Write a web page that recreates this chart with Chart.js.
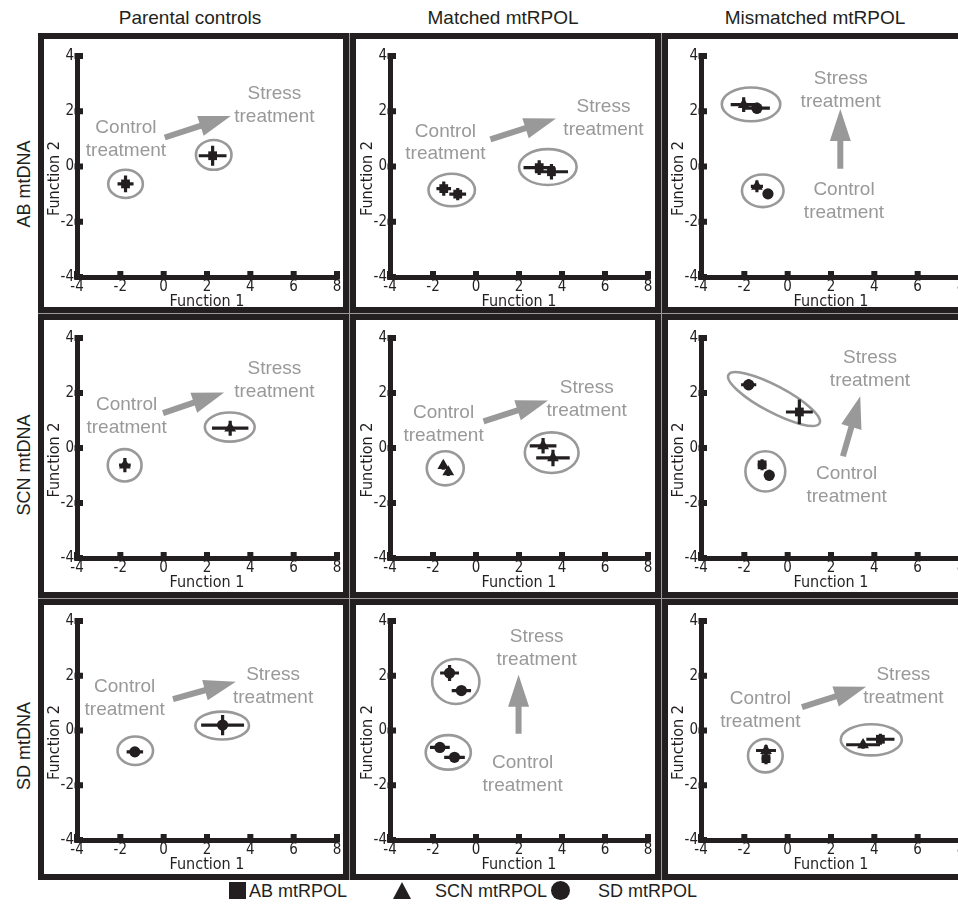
<!DOCTYPE html>
<html><head><meta charset="utf-8">
<script src="https://cdn.jsdelivr.net/npm/chart.js@4.4.1/dist/chart.umd.min.js"></script>
<style>
html,body{margin:0;padding:0;background:#fff;}
body{width:958px;height:907px;overflow:hidden;position:relative;font-family:"Liberation Sans",Arial,sans-serif;color:#231f20;}
.bg{position:absolute;left:38px;top:33px;width:940px;height:847px;background:#9a9a9a;}
.cell{position:absolute;box-sizing:border-box;border:6px solid #231f20;background:#fff;}
canvas{position:absolute;}
.hdr{position:absolute;font-size:19px;white-space:nowrap;transform:translate(-50%,-50%);line-height:22px;}
.rowl{position:absolute;font-size:18px;white-space:nowrap;transform:translate(-50%,-50%) rotate(-90deg);line-height:20px;}
.leg{position:absolute;font-size:18px;white-space:nowrap;line-height:18px;}
.sw{position:absolute;background:#231f20;}
</style></head><body>
<div class="bg"></div>
<script>
// ---------- labels ----------
const colTitles = ['Parental controls', 'Matched mtRPOL', 'Mismatched mtRPOL'];
const rowTitles = ['AB mtDNA', 'SCN mtDNA', 'SD mtDNA'];
const legendLabels = ['AB mtRPOL', 'SCN mtRPOL', 'SD mtRPOL'];
const xTicks = [-4, -2, 0, 2, 4, 6, 8];
const yTicks = [-4, -2, 0, 2, 4];
const xTitle = 'Function 1';
const yTitle = 'Function 2';
const groupText = [['Control', 'treatment'], ['Stress', 'treatment']];

// ---------- data: points [mtRPOL index, Function 1, Function 2, err F1, err F2] ----------
const AB_parental_pts    = [[0,-1.76,-0.63,0.37,0.30],[0,2.26,0.39,0.64,0.36]];
const AB_matched_pts     = [[0,-1.50,-0.80,0.34,0.26],[0,-0.85,-1.00,0.39,0.22],[0,2.94,-0.04,0.73,0.27],[0,3.51,-0.19,0.77,0.28]];
const AB_mismatched_pts  = [[1,-2.03,2.24,0.60,0.27],[2,-1.42,2.11,0.60,0.20],[1,-1.42,-0.72,0.28,0.21],[2,-0.91,-0.99,0.15,0.15]];
const SCN_parental_pts   = [[1,-1.79,-0.62,0.27,0.26],[1,3.07,0.72,0.84,0.27]];
const SCN_matched_pts    = [[1,-1.52,-0.64,0.12,0.15],[1,-1.29,-0.87,0.12,0.15],[1,3.12,0.08,0.62,0.28],[1,3.58,-0.36,0.78,0.30]];
const SCN_mismatched_pts = [[2,-1.80,2.30,0.35,0.20],[0,0.54,1.31,0.62,0.45],[0,-1.18,-0.61,0.20,0.20],[2,-0.85,-0.99,0.20,0.20]];
const SD_parental_pts    = [[2,-1.33,-0.78,0.38,0.15],[2,2.72,0.20,0.99,0.37]];
const SD_matched_pts     = [[2,-1.23,2.10,0.44,0.29],[2,-0.68,1.46,0.45,0.15],[2,-1.68,-0.62,0.46,0.15],[2,-1.00,-0.98,0.48,0.15]];
const SD_mismatched_pts  = [[1,-1.00,-0.73,0.46,0.20],[0,-1.00,-1.03,0.20,0.20],[1,3.48,-0.52,0.78,0.15],[0,4.28,-0.32,0.65,0.20]];

// ---------- group ellipses [centre F1, centre F2, radius F1, radius F2, tilt deg] ----------
const AB_parental_ell    = [[-1.76,-0.63,0.80,0.51,0],[2.31,0.42,0.82,0.54,0]];
const AB_matched_ell     = [[-1.13,-0.85,1.08,0.59,0],[3.34,-0.02,1.34,0.65,0]];
const AB_mismatched_ell  = [[-1.69,2.25,1.35,0.61,0],[-1.15,-0.88,0.96,0.59,0]];
const SCN_parental_ell   = [[-1.80,-0.63,0.78,0.59,0],[3.05,0.76,1.15,0.53,0]];
const SCN_matched_ell    = [[-1.43,-0.74,0.86,0.62,0],[3.52,-0.17,1.25,0.74,0]];
const SCN_mismatched_ell = [[-0.63,1.78,2.38,0.48,28],[-1.03,-0.85,0.92,0.73,0]];
const SD_parental_ell    = [[-1.31,-0.74,0.82,0.52,0],[2.70,0.18,1.24,0.51,0]];
const SD_matched_ell     = [[-0.94,1.79,1.10,0.82,0],[-1.29,-0.80,1.05,0.63,0]];
const SD_mismatched_ell  = [[-1.03,-0.92,0.80,0.61,0],[3.86,-0.34,1.41,0.57,0]];

// ---------- treatment label anchors [control F1, control F2, stress F1, stress F2] ----------
const AB_parental_txt    = [-1.74,0.99,5.11,2.22];
const AB_matched_txt     = [-1.42,0.86,5.93,1.75];
const AB_mismatched_txt  = [2.60,-1.25,2.45,2.77];
const SCN_parental_txt   = [-1.71,1.15,5.11,2.47];
const SCN_matched_txt    = [-1.51,0.86,5.15,1.76];
const SCN_mismatched_txt = [2.72,-1.36,3.80,2.85];
const SD_parental_txt    = [-1.80,1.18,5.05,1.62];
const SD_matched_txt     = [2.17,-1.59,2.82,3.01];
const SD_mismatched_txt  = [-1.26,0.75,5.34,1.62];

// ---------- arrows [from F1, from F2, to F1, to F2] ----------
const AB_parental_arw    = [0.05,1.05,3.10,1.83];
const AB_matched_arw     = [0.67,0.98,3.72,1.74];
const AB_mismatched_arw  = [2.43,-0.08,2.43,2.08];
const SCN_parental_arw   = [-0.03,1.27,2.79,2.02];
const SCN_matched_arw    = [0.35,0.97,3.35,1.73];
const SCN_mismatched_arw = [2.55,-0.30,3.35,1.88];
const SD_parental_arw    = [0.43,1.15,3.33,1.78];
const SD_matched_arw     = [1.98,-0.12,1.98,2.04];
const SD_mismatched_arw  = [0.66,0.85,3.62,1.60];

const panelPts = [AB_parental_pts, AB_matched_pts, AB_mismatched_pts, SCN_parental_pts, SCN_matched_pts, SCN_mismatched_pts, SD_parental_pts, SD_matched_pts, SD_mismatched_pts];
const panelEll = [AB_parental_ell, AB_matched_ell, AB_mismatched_ell, SCN_parental_ell, SCN_matched_ell, SCN_mismatched_ell, SD_parental_ell, SD_matched_ell, SD_mismatched_ell];
const panelTxt = [AB_parental_txt, AB_matched_txt, AB_mismatched_txt, SCN_parental_txt, SCN_matched_txt, SCN_mismatched_txt, SD_parental_txt, SD_matched_txt, SD_mismatched_txt];
const panelArw = [AB_parental_arw, AB_matched_arw, AB_mismatched_arw, SCN_parental_arw, SCN_matched_arw, SCN_mismatched_arw, SD_parental_arw, SD_matched_arw, SD_mismatched_arw];

// ---------- styling / layout ----------
const INK = '#231f20', GREY = '#999999';
const markerStyle = ['rect', 'triangle', 'circle'];
const markerRadius = [6.2, 6.8, 5.6];
const cellX = [[38,349],[350,661],[662,990]];
const cellY = [[33,313],[314,598],[599,880]];
const areaX = [[77,337],[390,648],[701,961]];
const areaY = [[56,277],[338,558],[621,840]];
const YW = 33, XH = 34, PT = 14, PR = 12;

function hasFont(n){
  const c=document.createElement('canvas').getContext('2d');
  c.font='40px monospace'; const a=c.measureText('Function 1234567').width;
  c.font='40px "'+n+'", monospace'; return Math.abs(c.measureText('Function 1234567').width-a)>0.5;
}
let NARROW='"Liberation Sans"', tickSize=14, titleSize=16;
if (hasFont('Liberation Sans Narrow')) { NARROW='"Liberation Sans Narrow"'; tickSize=16; titleSize=18; }
else if (hasFont('DejaVu Sans Condensed')) { NARROW='"DejaVu Sans Condensed"'; tickSize=15; titleSize=16; }
const WIDE = '"Liberation Sans", Arial, sans-serif';

function add(tag, cls, css, text){
  const e=document.createElement(tag); if(cls) e.className=cls;
  Object.assign(e.style, css); if(text!==undefined) e.textContent=text;
  document.body.appendChild(e); return e;
}

// frames
for (let r=0;r<3;r++) for (let c=0;c<3;c++) {
  add('div','cell',{left:cellX[c][0]+'px',top:cellY[r][0]+'px',width:(cellX[c][1]-cellX[c][0])+'px',height:(cellY[r][1]-cellY[r][0])+'px'});
}
// headers
[190,503,815].forEach((x,i)=>add('div','hdr',{left:x+'px',top:'18px'},colTitles[i]));
[184,465,746].forEach((y,i)=>add('div','rowl',{left:'24px',top:y+'px'},rowTitles[i]));
// legend
add('div','sw',{left:'229px',top:'882px',width:'17px',height:'17px'});
add('div','leg',{left:'249px',top:'882px'},legendLabels[0]);
add('div','sw',{left:'393px',top:'882px',width:'18px',height:'17px',clipPath:'polygon(50% 0,100% 100%,0 100%)'});
add('div','leg',{left:'435px',top:'882px'},legendLabels[1]);
add('div','sw',{left:'551px',top:'881px',width:'19px',height:'19px',borderRadius:'50%'});
add('div','leg',{left:'598px',top:'882px'},legendLabels[2]);

function makePlugin(i){
  return {
    id:'panelDeco'+i,
    beforeDatasetsDraw(chart){
      const xs=chart.scales.x, ys=chart.scales.y, ctx=chart.ctx;
      const X=v=>xs.getPixelForValue(v), Y=v=>ys.getPixelForValue(v);
      ctx.save();
      // ellipses
      ctx.strokeStyle=GREY; ctx.lineWidth=2.6;
      panelEll[i].forEach(e=>{
        const cx=X(e[0]), cy=Y(e[1]);
        const rx=Math.abs(X(e[0]+e[2])-cx), ry=Math.abs(Y(e[1]+e[3])-cy);
        ctx.beginPath(); ctx.ellipse(cx,cy,rx,ry,e[4]*Math.PI/180,0,Math.PI*2); ctx.stroke();
      });
      // arrow
      const a=panelArw[i];
      const x1=X(a[0]), y1=Y(a[1]), x2=X(a[2]), y2=Y(a[3]);
      const len=Math.hypot(x2-x1,y2-y1), ang=Math.atan2(y2-y1,x2-x1);
      const hl=Math.min(32,len*0.55), hw=10.5, sw=3;
      ctx.save(); ctx.translate(x1,y1); ctx.rotate(ang); ctx.fillStyle=GREY;
      ctx.beginPath(); ctx.moveTo(0,-sw); ctx.lineTo(len-hl,-sw); ctx.lineTo(len-hl,-hw); ctx.lineTo(len,0);
      ctx.lineTo(len-hl,hw); ctx.lineTo(len-hl,sw); ctx.lineTo(0,sw); ctx.closePath(); ctx.fill();
      ctx.restore();
      // treatment labels
      const t=panelTxt[i];
      ctx.fillStyle=GREY; ctx.font='19px '+WIDE; ctx.textAlign='center'; ctx.textBaseline='middle';
      [[t[0],t[1],groupText[0]],[t[2],t[3],groupText[1]]].forEach(([fx,fy,lines])=>{
        const cx=X(fx), cy=Y(fy);
        ctx.fillText(lines[0],cx,cy-11.4); ctx.fillText(lines[1],cx,cy+11.4);
      });
      // error bars
      ctx.strokeStyle=INK; ctx.lineWidth=3.2; ctx.lineCap='butt';
      panelPts[i].forEach(p=>{
        const px=X(p[1]), py=Y(p[2]);
        ctx.beginPath();
        ctx.moveTo(X(p[1]-p[3]),py); ctx.lineTo(X(p[1]+p[3]),py);
        ctx.moveTo(px,Y(p[2]-p[4])); ctx.lineTo(px,Y(p[2]+p[4]));
        ctx.stroke();
      });
      ctx.restore();
    },
    afterDraw(chart){
      const xs=chart.scales.x, ys=chart.scales.y, ctx=chart.ctx, ca=chart.chartArea;
      ctx.save(); ctx.fillStyle=INK;
      xTicks.forEach(v=>{ const x=xs.getPixelForValue(v); ctx.fillRect(x-3,ca.bottom-6,6,8.5); });
      yTicks.forEach(v=>{ const y=ys.getPixelForValue(v); ctx.fillRect(ca.left-2.5,y-3,8.5,6); });
      // y-axis title
      ctx.font=titleSize+'px '+NARROW; ctx.textAlign='center'; ctx.textBaseline='middle';
      ctx.translate(ys.left+11,(ca.top+ca.bottom)/2+12); ctx.rotate(-Math.PI/2);
      ctx.fillText(yTitle,0,0);
      ctx.restore();
    }
  };
}

for (let r=0;r<3;r++) for (let c=0;c<3;c++) {
  const i=r*3+c;
  const L=areaX[c][0], R=areaX[c][1], T=areaY[r][0], B=areaY[r][1];
  const cv=document.createElement('canvas');
  cv.width=R-L+YW+PR; cv.height=B-T+PT+XH;
  cv.style.left=(L-YW)+'px'; cv.style.top=(T-PT)+'px';
  cv.style.width=cv.width+'px'; cv.style.height=cv.height+'px';
  document.body.appendChild(cv);
  const data=panelPts[i].map(p=>({x:p[1],y:p[2],g:p[0]}));
  new Chart(cv,{
    type:'scatter',
    data:{datasets:[{
      data,
      pointStyle:ctx=>markerStyle[ctx.raw?ctx.raw.g:0],
      pointRadius:ctx=>markerRadius[ctx.raw?ctx.raw.g:0],
      pointHoverRadius:ctx=>markerRadius[ctx.raw?ctx.raw.g:0],
      backgroundColor:INK, borderColor:INK, borderWidth:0
    }]},
    options:{
      responsive:false, animation:false, events:[],
      layout:{padding:{left:0,top:PT,right:PR,bottom:0}},
      plugins:{legend:{display:false},tooltip:{enabled:false}},
      scales:{
        x:{type:'linear',min:-4,max:8,
          afterBuildTicks:s=>{s.ticks=xTicks.map(v=>({value:v}));},
          afterFit:s=>{s.height=XH;},
          ticks:{autoSkip:false,maxRotation:0,padding:1,color:INK,font:{family:NARROW,size:tickSize}},
          grid:{display:false,drawTicks:false},
          border:{display:true,color:INK,width:5},
          title:{display:true,text:xTitle,color:INK,padding:0,font:{family:NARROW,size:titleSize}}
        },
        y:{type:'linear',min:-4,max:4,
          afterBuildTicks:s=>{s.ticks=yTicks.map(v=>({value:v}));},
          afterFit:s=>{s.width=YW;},
          ticks:{autoSkip:false,padding:3,color:INK,font:{family:NARROW,size:tickSize}},
          grid:{display:false,drawTicks:false},
          border:{display:true,color:INK,width:5},
          title:{display:false}
        }
      }
    },
    plugins:[makePlugin(i)]
  });
}
</script>
</body></html>
